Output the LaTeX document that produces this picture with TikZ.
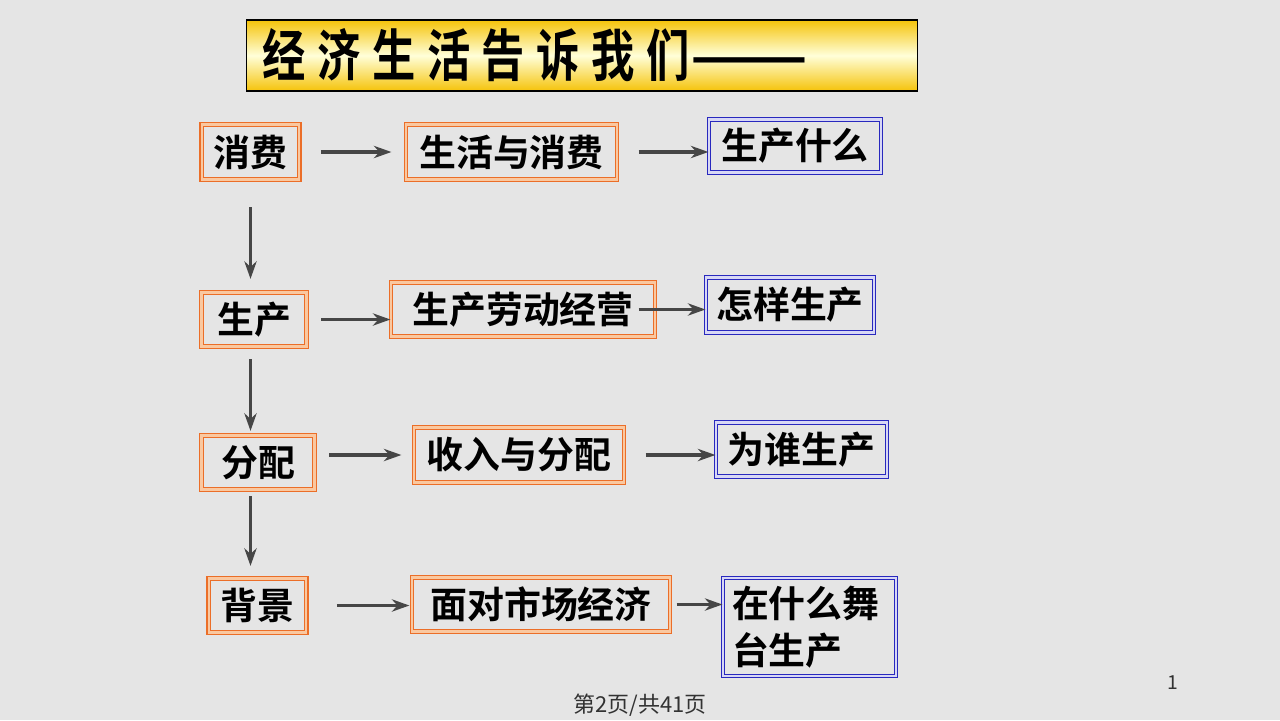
\documentclass[tikz,border=0pt]{standalone}
\usepackage{fontspec}
\setmainfont{Noto Sans CJK SC}[BoldFont={Noto Sans CJK SC Bold}]
\usetikzlibrary{arrows.meta,positioning}
\definecolor{bggray}{RGB}{229,229,229}
\definecolor{boxorange}{RGB}{235,110,40}
\definecolor{boxpeach}{RGB}{250,200,160}
\definecolor{boxblue}{RGB}{40,40,190}
\definecolor{boxlilac}{RGB}{215,215,245}
\definecolor{titlegold}{RGB}{245,195,10}
\definecolor{arrowgray}{RGB}{70,70,70}
\definecolor{footgray}{RGB}{50,50,50}

\begin{document}
\begin{tikzpicture}[
  x=0.02cm, y=-0.02cm,
  obox/.style={rectangle, draw=boxorange, double=boxpeach, line width=0.7pt, double distance=1.2pt, inner sep=0pt, font=\bfseries\fontsize{21}{27}\selectfont},
  bbox/.style={rectangle, draw=boxblue, double=boxlilac, line width=0.7pt, double distance=1.2pt, inner sep=0pt, font=\bfseries\fontsize{21}{27}\selectfont},
  titlebox/.style={rectangle, draw=black, line width=0.6pt, top color=titlegold, bottom color=titlegold, middle color=white!85!yellow, inner xsep=0.32cm, align=left},
  arr/.style={draw=arrowgray, line width=1.8pt, -{Stealth[length=10pt, width=7pt, fill=gray]}},
  font=\small
]
\path[use as bounding box, fill=bggray] (0,0) rectangle (1280,720);

% Title
\node[titlebox, minimum width=13.44cm, minimum height=1.42cm, text width=12.8cm] (title) at (582,55.5)
  {\scalebox{0.77}[1]{\bfseries\fontsize{32}{32}\selectfont\addfontfeature{LetterSpace=27}经济生活告诉我们\scalebox{1.6}[1]{——}}};

% Left column
\node[obox, minimum width=1.95cm, minimum height=1.1cm] (xiaofei) at (250.5,152) {消费};
\node[obox, minimum width=2.1cm, minimum height=1.08cm] (shengchan) at (254,319.5) {生产};
\node[obox, minimum width=2.26cm, minimum height=1.08cm] (fenpei) at (258,462.5) {分配};
\node[obox, minimum width=1.95cm, minimum height=1.08cm] (beijing) at (257.5,605.5) {背景};

% Middle column
\node[obox, minimum width=4.22cm, minimum height=1.1cm] (shenghuo) at (511.5,152) {生活与消费};
\node[obox, minimum width=5.28cm, minimum height=1.08cm] (laodong) at (523,309.5) {生产劳动经营};
\node[obox, minimum width=4.2cm, minimum height=1.1cm] (shouru) at (519,455) {收入与分配};
\node[obox, minimum width=5.16cm, minimum height=1.08cm] (shichang) at (541,604.5) {面对市场经济};

% Right column
\node[bbox, minimum width=3.44cm, minimum height=1.06cm] (shenme) at (795,146) {生产什么};
\node[bbox, minimum width=3.36cm, minimum height=1.1cm] (zenyang) at (790,305) {怎样生产};
\node[bbox, minimum width=3.42cm, minimum height=1.08cm] (weishui) at (801.5,449.5) {为谁生产};
\node[bbox, minimum width=3.46cm, minimum height=1.96cm, text width=3.1cm, align=left] (wutai) at (809.5,627) {在什么舞\\台生产};

% Arrows
\draw[arr, shorten <=0.42cm, shorten >=0.28cm] (xiaofei.east) -- (xiaofei.east -| shenghuo.west);
\draw[arr, shorten <=0.42cm] (shenghuo.east) -- (shenghuo.east -| shenme.west);
\draw[arr, shorten <=0.28cm] (shengchan.east) -- (shengchan.east -| laodong.west);
\draw[arr, shorten <=-0.34cm] (laodong.east) -- (laodong.east -| zenyang.west);
\draw[arr, shorten <=0.28cm, shorten >=0.24cm] (fenpei.east |- shouru.west) -- (shouru.west);
\draw[arr, shorten <=0.42cm] (shouru.east) -- (shouru.east -| weishui.west);
\draw[arr, shorten <=0.6cm, shorten >=0.04cm] (beijing.east) -- (beijing.east -| shichang.west);
\draw[arr, shorten <=0.12cm] (shichang.east) -- (shichang.east -| wutai.west);

\draw[arr, shorten <=0.54cm, shorten >=0.26cm] (xiaofei.south) -- (xiaofei.south |- shengchan.north);
\draw[arr, shorten <=0.24cm, shorten >=0.08cm] (xiaofei.south |- shengchan.south) -- (xiaofei.south |- fenpei.north);
\draw[arr, shorten <=0.12cm, shorten >=0.24cm] (xiaofei.south |- fenpei.south) -- (xiaofei.south |- beijing.north);

% Footer
\node[font=\fontsize{11}{11}\selectfont, text=footgray] (pagenum) at (1173,683) {1};
\node[font=\fontsize{12.5}{12.5}\selectfont, text=footgray] (footer) at (640,705) {第2页/共41页};

\end{tikzpicture}
\end{document}
